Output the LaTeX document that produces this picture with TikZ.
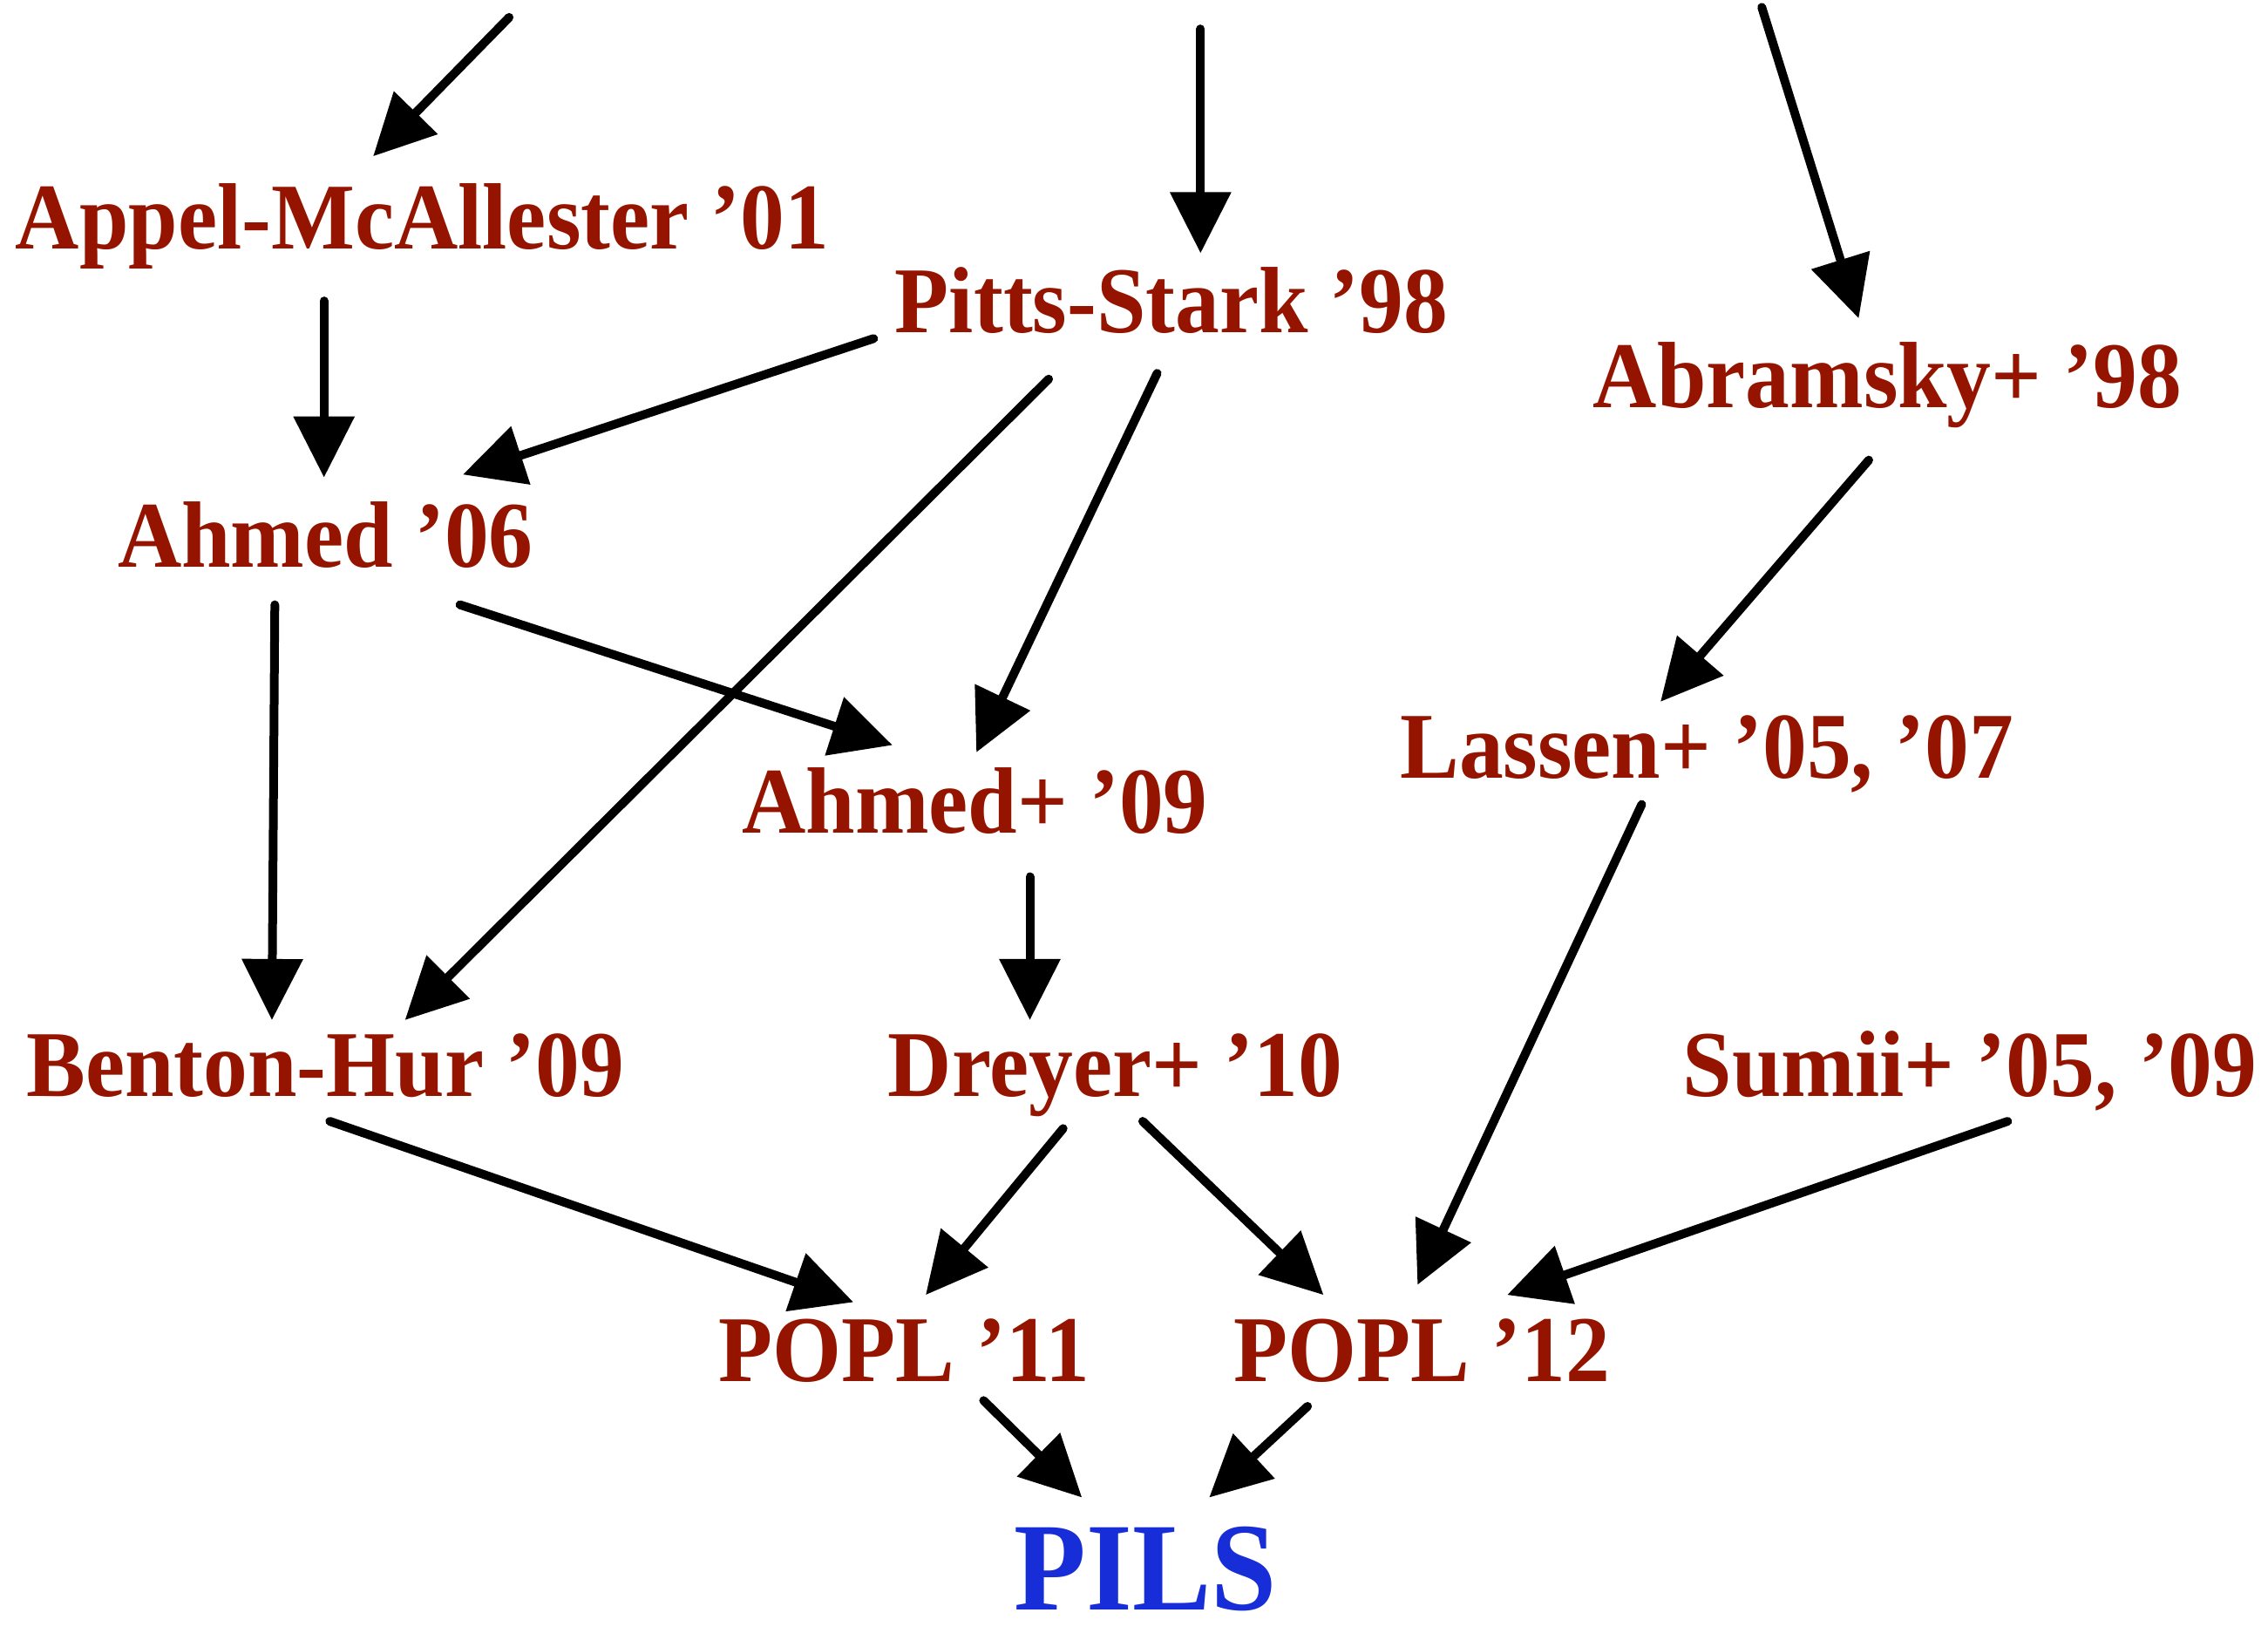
\documentclass[tikz,border=0pt]{standalone}
\usepackage{fontspec}
\setmainfont{Liberation Serif}[FakeStretch=0.94]
\usetikzlibrary{arrows.meta,calc}
\definecolor{refred}{RGB}{149,20,0}
\definecolor{refblue}{RGB}{22,45,215}
\tikzset{
  ref/.style={anchor=base, inner sep=0pt, text=refred, font=\fontsize{54}{60}\selectfont\bfseries},
  goal/.style={anchor=base, inner sep=0pt, text=refblue, font=\fontsize{72}{80}\selectfont\bfseries},
  arr/.style={draw=black, line width=5pt, line cap=round, -{Triangle[length=35pt,width=34pt]}}
}
\begin{document}
\begin{tikzpicture}[x=0.8297pt,y=-0.8297pt]
\useasboundingbox (0,0) rectangle (1568,1133);
\node[ref] (appel)  at (292,172)  {Appel-McAllester ’01};
\node[ref] (pitts)  at (810,230)  {Pitts-Stark ’98};
\node[ref] (abram)  at (1305,282) {Abramsky+ ’98};
\node[ref] (ahmedA) at (225,392)  {Ahmed ’06};
\node[ref] (ahmedB) at (674,576)  {Ahmed+ ’09};
\node[ref] (lassen) at (1180,538) {Lassen+ ’05, ’07};
\node[ref] (benton) at (225,758)  {Benton-Hur ’09};
\node[ref] (dreyer) at (771,758)  {Dreyer+ ’10};
\node[ref] (sumii)  at (1362,758) {Sumii+ ’05, ’09};
\node[ref] (poplA)  at (625,955)  {POPL ’11};
\node[ref] (poplB)  at (983,955)  {POPL ’12};
\node[goal] (pils)  at (792,1113) {PILS};
\coordinate (inA) at (352,12);
\coordinate (inB) at (830,20);
\coordinate (inC) at (1218,5);
\draw[arr] (inA) -- ($(appel.base)+(-34,-64)$);
\draw[arr] (inB) -- ($(pitts.base)+(20,-55)$);
\draw[arr] (inC) -- ($(abram.base)+(-20,-62)$);
\draw[arr] ($(appel.base)+(-68,36)$) -- ($(ahmedA.base)+(-1,-62)$);
\draw[arr] ($(pitts.base)+(-206,4)$) -- ($(ahmedA.base)+(95,-64)$);
\draw[arr] ($(pitts.base)+(-85,32)$) -- ($(benton.base)+(55,-53)$);
\draw[arr] ($(pitts.base)+(-10,28)$) -- ($(ahmedB.base)+(1,-56)$);
\draw[arr] ($(abram.base)+(-13,36)$) -- ($(lassen.base)+(-32,-53)$);
\draw[arr] ($(ahmedA.base)+(93,26)$) -- ($(ahmedB.base)+(-57,-61)$);
\draw[arr] ($(ahmedA.base)+(-35,26)$) -- ($(benton.base)+(-37,-53)$);
\draw[arr] ($(ahmedB.base)+(38,30)$) -- ($(dreyer.base)+(-59,-53)$);
\draw[arr] ($(lassen.base)+(-45,18)$) -- ($(poplB.base)+(-3,-67)$);
\draw[arr] ($(benton.base)+(3,17)$) -- ($(poplA.base)+(-35,-55)$);
\draw[arr] ($(dreyer.base)+(-36,22)$) -- ($(poplA.base)+(15,-60)$);
\draw[arr] ($(dreyer.base)+(19,17)$) -- ($(poplB.base)+(-68,-60)$);
\draw[arr] ($(sumii.base)+(26,17)$) -- ($(poplB.base)+(59,-60)$);
\draw[arr] ($(poplA.base)+(55,13)$) -- ($(pils.base)+(-44,-78)$);
\draw[arr] ($(poplB.base)+(-79,17)$) -- ($(pils.base)+(44,-78)$);
\end{tikzpicture}
\end{document}
